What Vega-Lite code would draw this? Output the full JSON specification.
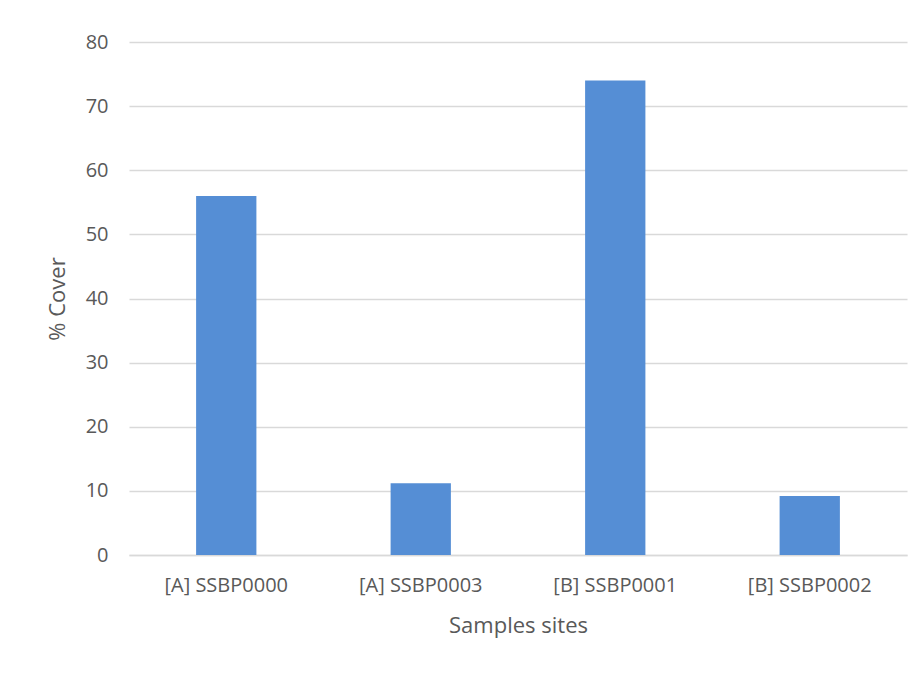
{
  "$schema": "https://vega.github.io/schema/vega-lite/v6.json",
  "width": 778,
  "height": 513,
  "autosize": "none",
  "padding": {"left": 129, "top": 42, "right": 15, "bottom": 140},
  "background": "white",
  "config": {
    "view": {"stroke": null},
    "font": "Open Sans"
  },
  "data": {
    "values": [
      {"site": "[A] SSBP0000", "cover": 56.0},
      {"site": "[A] SSBP0003", "cover": 11.2},
      {"site": "[B] SSBP0001", "cover": 74.0},
      {"site": "[B] SSBP0002", "cover": 9.2}
    ]
  },
  "mark": {"type": "bar", "color": "#558ED5"},
  "encoding": {
    "x": {
      "field": "site",
      "type": "nominal",
      "sort": null,
      "scale": {"paddingInner": 0.69, "paddingOuter": 0.345},
      "axis": {
        "title": "Samples sites",
        "labelAngle": 0,
        "labelFontSize": 20,
        "labelColor": "#595959",
        "labelPadding": 20,
        "titleFontSize": 22,
        "titleFontWeight": "normal",
        "titleColor": "#595959",
        "titlePadding": 20,
        "ticks": false,
        "domainColor": "#d9d9d9",
        "domainWidth": 1.5
      }
    },
    "y": {
      "field": "cover",
      "type": "quantitative",
      "scale": {"domain": [0, 80]},
      "axis": {
        "title": "% Cover",
        "values": [0, 10, 20, 30, 40, 50, 60, 70, 80],
        "labelFontSize": 20,
        "labelColor": "#595959",
        "labelPadding": 21,
        "titleFontSize": 22,
        "titleFontWeight": "normal",
        "titleColor": "#595959",
        "titlePadding": 16,
        "ticks": false,
        "domain": false,
        "gridColor": "#d9d9d9",
        "gridWidth": 1.5
      }
    }
  }
}
